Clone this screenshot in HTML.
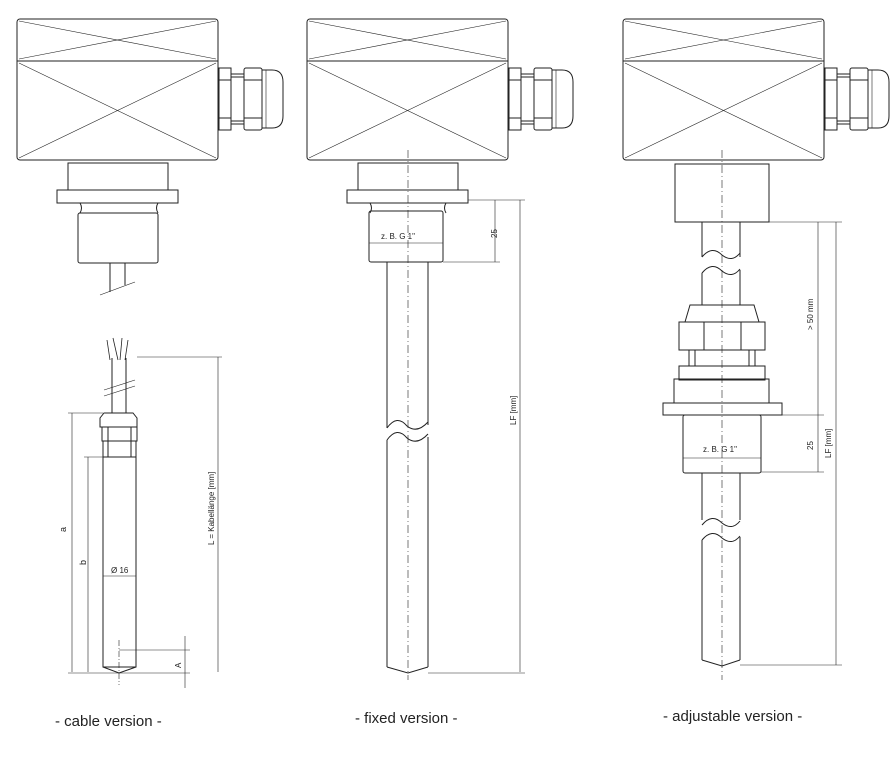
<!DOCTYPE html>
<html><head><style>
html,body{margin:0;padding:0;background:#fff;width:893px;height:758px;overflow:hidden}
svg{display:block}
text{font-family:"Liberation Sans",sans-serif;fill:#222}
</style></head><body>
<svg width="893" height="758" viewBox="0 0 893 758" fill="none" stroke="#222" stroke-width="1">
<defs>
<g id="house">
  <rect x="0" y="0" width="201" height="141" rx="3"/>
  <line x1="0" y1="42" x2="201" y2="42"/>
  <line x1="2" y1="2" x2="199" y2="40" stroke-width="0.6"/>
  <line x1="199" y1="2" x2="2" y2="40" stroke-width="0.6"/>
  <line x1="2" y1="44" x2="199" y2="139" stroke-width="0.6"/>
  <line x1="199" y1="44" x2="2" y2="139" stroke-width="0.6"/>
  <rect x="202" y="49" width="12" height="62"/>
  <line x1="202" y1="61" x2="214" y2="61"/><line x1="202" y1="99" x2="214" y2="99"/>
  <rect x="214" y="55" width="13" height="50"/>
  <line x1="214" y1="58" x2="227" y2="58"/><line x1="214" y1="102" x2="227" y2="102"/>
  <rect x="227" y="49" width="18" height="62" rx="2"/>
  <line x1="227" y1="61" x2="245" y2="61"/><line x1="227" y1="99" x2="245" y2="99"/>
  <path d="M245 51 h10 q11 0 11 12 v34 q0 12 -11 12 h-10"/>
  <line x1="249" y1="51" x2="249" y2="109" stroke-width="0.6"/>
</g>
</defs>

<!-- LEFT -->
<use href="#house" x="17" y="19"/>
<rect x="68" y="163" width="100" height="30"/>
<rect x="57" y="190" width="121" height="13" fill="#fff"/>
<path d="M80 203 q3 5 0 10 M158 203 q-3 5 0 10"/>
<rect x="78" y="213" width="80" height="50" rx="2"/>
<line x1="110" y1="263" x2="110" y2="292"/><line x1="125" y1="263" x2="125" y2="285"/>
<line x1="100" y1="295" x2="135" y2="282" stroke-width="0.6"/>

<!-- left probe -->
<path d="M107 340 l3 20 M113 338 l5 22 M122 338 l-2 22 M128 340 l-3 20" stroke-width="0.8"/>
<line x1="112" y1="358" x2="112" y2="413"/><line x1="126" y1="358" x2="126" y2="413"/>
<line x1="104" y1="390" x2="135" y2="380" stroke-width="0.6"/>
<line x1="104" y1="396" x2="135" y2="386" stroke-width="0.6"/>
<path d="M104 413 h29 l4 5 v9 h-37 v-9z"/>
<rect x="102" y="427" width="35" height="14"/>
<rect x="103" y="441" width="33" height="16"/>
<line x1="108" y1="427" x2="108" y2="457"/><line x1="131" y1="427" x2="131" y2="457"/>
<rect x="103" y="457" width="33" height="210"/>
<path d="M103 667 l16 6 l17 -6"/>
<line x1="119" y1="640" x2="119" y2="685" stroke-dasharray="6,2,1,2" stroke-width="0.6"/>
<g stroke-width="0.6">
<line x1="72" y1="413" x2="72" y2="672"/><line x1="68" y1="413" x2="103" y2="413"/>
<line x1="88" y1="457" x2="88" y2="672"/><line x1="84" y1="457" x2="103" y2="457"/>
<line x1="68" y1="673" x2="190" y2="673"/>
<line x1="218" y1="357" x2="218" y2="672"/><line x1="137" y1="357" x2="222" y2="357"/>
<line x1="119" y1="650" x2="190" y2="650"/><line x1="185" y1="636" x2="185" y2="688"/>
<line x1="103" y1="576" x2="136" y2="576"/>
</g>
<text x="66" y="532" font-size="9" transform="rotate(-90 66 532)" stroke="none">a</text>
<text x="86" y="565" font-size="9" transform="rotate(-90 86 565)" stroke="none">b</text>
<text x="111" y="573" font-size="8" stroke="none">Ø 16</text>
<text x="181" y="668" font-size="8" transform="rotate(-90 181 668)" stroke="none">A</text>
<text x="214" y="545" font-size="8" transform="rotate(-90 214 545)" stroke="none">L = Kabellänge [mm]</text>

<!-- MIDDLE -->
<use href="#house" x="307" y="19"/>
<rect x="358" y="163" width="100" height="30"/>
<rect x="347" y="190" width="121" height="13" fill="#fff"/>
<path d="M370 203 q3 5 0 10 M446 203 q-3 5 0 10"/>
<rect x="369" y="211" width="74" height="51" rx="2"/>
<line x1="387" y1="262" x2="387" y2="428"/><line x1="428" y1="262" x2="428" y2="425"/>
<path d="M387 428 q10 -14 20 -2 q10 8 21 -4 M387 440 q10 -14 20 -2 q10 8 21 -4"/>
<line x1="387" y1="440" x2="387" y2="667"/><line x1="428" y1="437" x2="428" y2="667"/>
<path d="M387 667 l21 6 l20 -6"/>
<line x1="408" y1="150" x2="408" y2="680" stroke-dasharray="8,3,1,3" stroke-width="0.6"/>
<g stroke-width="0.6">
<line x1="468" y1="200" x2="525" y2="200"/><line x1="443" y1="262" x2="500" y2="262"/>
<line x1="495" y1="200" x2="495" y2="262"/><line x1="520" y1="200" x2="520" y2="672"/>
<line x1="428" y1="673" x2="525" y2="673"/>
<line x1="369" y1="243" x2="443" y2="243"/>
</g>
<text x="381" y="239" font-size="8" stroke="none">z. B. G 1"</text>
<text x="497" y="238" font-size="8" transform="rotate(-90 497 238)" stroke="none">25</text>
<text x="516" y="425" font-size="8" transform="rotate(-90 516 425)" stroke="none">LF [mm]</text>

<!-- RIGHT -->
<use href="#house" x="623" y="19"/>
<rect x="675" y="164" width="94" height="58"/>
<line x1="702" y1="222" x2="702" y2="257"/><line x1="740" y1="222" x2="740" y2="257"/>
<path d="M702 257 q10 -12 20 -2 q10 8 18 -2 M702 273 q10 -12 20 -2 q10 8 18 -2"/>
<line x1="702" y1="273" x2="702" y2="305"/><line x1="740" y1="270" x2="740" y2="305"/>
<path d="M685 322 l5 -17 h64 l5 17z"/>
<rect x="679" y="322" width="86" height="28"/>
<line x1="704" y1="322" x2="704" y2="350"/><line x1="741" y1="322" x2="741" y2="350"/>
<rect x="689" y="350" width="6" height="16"/><rect x="749" y="350" width="6" height="16"/>
<rect x="679" y="366" width="86" height="14"/>
<rect x="674" y="379" width="95" height="25"/>
<rect x="663" y="403" width="119" height="12" fill="#fff"/>
<rect x="683" y="415" width="78" height="58" rx="2"/>
<line x1="702" y1="473" x2="702" y2="520"/><line x1="740" y1="473" x2="740" y2="520"/>
<path d="M702 525 q10 -12 20 -2 q10 8 18 -2 M702 540 q10 -12 20 -2 q10 8 18 -2"/>
<line x1="702" y1="540" x2="702" y2="660"/><line x1="740" y1="537" x2="740" y2="660"/>
<path d="M702 660 l20 6 l18 -6"/>
<line x1="722" y1="150" x2="722" y2="680" stroke-dasharray="8,3,1,3" stroke-width="0.6"/>
<g stroke-width="0.6">
<line x1="769" y1="222" x2="842" y2="222"/>
<line x1="818" y1="222" x2="818" y2="472"/><line x1="836" y1="222" x2="836" y2="665"/>
<line x1="782" y1="415" x2="824" y2="415"/><line x1="761" y1="472" x2="824" y2="472"/>
<line x1="740" y1="665" x2="842" y2="665"/>
<line x1="683" y1="458" x2="761" y2="458"/>
</g>
<text x="703" y="452" font-size="8" stroke="none">z. B. G 1"</text>
<text x="813" y="330" font-size="8" transform="rotate(-90 813 330)" stroke="none">&gt; 50 mm</text>
<text x="813" y="450" font-size="8" transform="rotate(-90 813 450)" stroke="none">25</text>
<text x="831" y="458" font-size="8" transform="rotate(-90 831 458)" stroke="none">LF [mm]</text>

<text x="55" y="726" font-size="15" stroke="none">- cable version -</text>
<text x="355" y="723" font-size="15" stroke="none">- fixed version -</text>
<text x="663" y="721" font-size="15" stroke="none">- adjustable version -</text>
</svg>
</body></html>
